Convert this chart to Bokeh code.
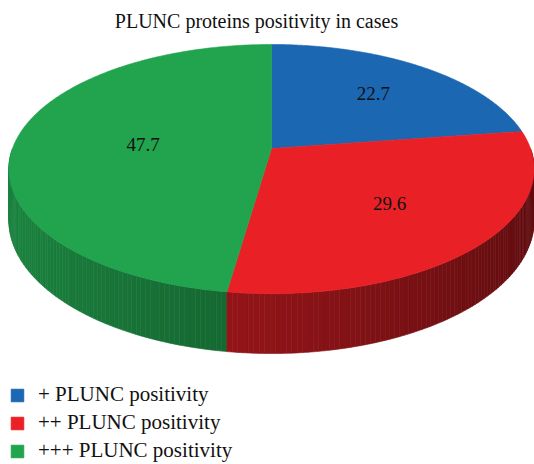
import numpy as np
from bokeh.plotting import figure
from bokeh.models import Range1d, ColumnDataSource, Legend, LegendItem
from bokeh.core.properties import value
from bokeh.embed import file_html
from bokeh.resources import INLINE

# ---- data ----
title_text = "PLUNC proteins positivity in cases"
categories = ["+ PLUNC positivity", "++ PLUNC positivity", "+++ PLUNC positivity"]
values = [22.7, 29.6, 47.7]
colors = ["#1b67b2", "#e92127", "#22a44f"]
label_radius = [0.65, 0.6, 0.5]

# ---- geometry / style ----
CX, CY = 271.0, 148.0
SH, SV = 259.0, 121.2
K = 0.165
DEPTH = 50.0
FONT = "Liberation Serif"
W, H = 534, 464

def hex_to_rgb(h):
    h = h.lstrip("#")
    return tuple(int(h[i:i + 2], 16) for i in (0, 2, 4))

def shade(h, f):
    r, g, b = hex_to_rgb(h)
    return "#%02x%02x%02x" % (int(r * f), int(g * f), int(b * f))

def proj(r, th):
    x = r * np.cos(th)
    y = r * np.sin(th)
    w = 1 + K * y
    return CX + SH * x / w, CY - SV * y / w, w

p = figure(width=W, height=H, output_backend="svg", toolbar_location=None,
           x_range=Range1d(0, W), y_range=Range1d(H, 0),
           x_axis_type=None, y_axis_type=None, min_border=0)
p.grid.visible = False
p.outline_line_color = None
p.background_fill_color = "white"

total = sum(values)
cum = np.concatenate([[0], np.cumsum(values)]) / total
starts = 90 - 360 * cum[:-1]
ends = 90 - 360 * cum[1:]

# ---- side walls (front half) ----
side_xs, side_ys, side_cols, side_key = [], [], [], []
for i in range(len(values)):
    a0, a1 = ends[i], starts[i]
    for shift in (0, -360, 360):
        lo = max(a0 + shift, -180)
        hi = min(a1 + shift, 0)
        if hi > lo:
            n = max(2, int((hi - lo) / 1.0) + 1)
            angs = np.linspace(lo, hi, n)
            for j in range(n - 1):
                t0, t1 = np.radians(angs[j]), np.radians(angs[j + 1])
                x0, y0, w0 = proj(1.0, t0)
                x1, y1, w1 = proj(1.0, t1)
                d0, d1 = DEPTH / w0, DEPTH / w1
                side_xs.append([x0, x1, x1, x0])
                side_ys.append([y0, y1, y1 + d1, y0 + d0])
                xm = np.cos((t0 + t1) / 2)
                side_cols.append(shade(colors[i], 0.61 - 0.2 * xm))
                side_key.append(-np.sin((t0 + t1) / 2))
order = np.argsort(side_key)
side_src = ColumnDataSource(dict(
    xs=[side_xs[o] for o in order], ys=[side_ys[o] for o in order],
    c=[side_cols[o] for o in order]))
p.patches("xs", "ys", source=side_src, fill_color="c", line_color="c", line_width=0.6)

# ---- top faces ----
top_xs, top_ys = [], []
for i in range(len(values)):
    angs = np.radians(np.linspace(starts[i], ends[i], 200))
    xs, ys, _ = proj(1.0, angs)
    top_xs.append([CX] + list(xs))
    top_ys.append([CY] + list(ys))
top_src = ColumnDataSource(dict(xs=top_xs, ys=top_ys, color=colors, label=categories))
top_r = p.patches("xs", "ys", source=top_src, fill_color="color", line_color="color", line_width=0.6)

# ---- data labels ----
lx, ly = [], []
for i in range(len(values)):
    mid = np.radians((starts[i] + ends[i]) / 2)
    x, y, _ = proj(label_radius[i], mid)
    lx.append(x)
    ly.append(y)
lab_src = ColumnDataSource(dict(x=lx, y=ly, t=["%.1f" % v for v in values]))
p.text("x", "y", text="t", source=lab_src, text_font=value(FONT), text_font_size="19px",
       text_align="center", text_baseline="middle", text_color="#111111")

# ---- title ----
p.text(x=[256], y=[20], text=[title_text], text_font=value(FONT), text_font_size="20px",
       text_align="center", text_baseline="middle", text_color="#111111")

# ---- legend ----
items = [LegendItem(label=categories[i], renderers=[top_r], index=i) for i in range(len(values))]
legend = Legend(items=items, location=(9, 1), orientation="vertical",
                glyph_width=16, glyph_height=16, label_height=16, label_standoff=13,
                spacing=3, padding=0, margin=0, border_line_color=None,
                background_fill_alpha=0, label_text_font=FONT, label_text_font_size="21px",
                label_text_color="#111111")
p.add_layout(legend)

open("out.html", "w").write(file_html(p, INLINE))
